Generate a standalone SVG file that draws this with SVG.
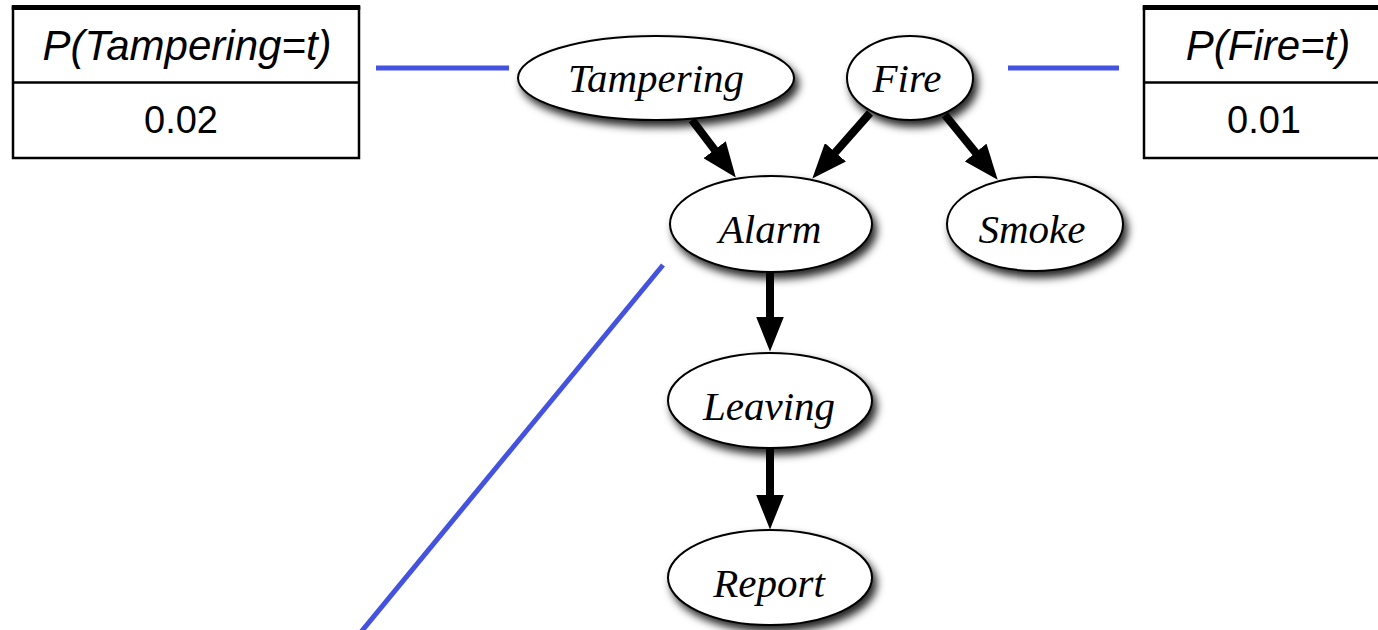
<svg xmlns="http://www.w3.org/2000/svg" width="1378" height="630" viewBox="0 0 1378 630">
<style>
.tbl{fill:#fff;stroke:#000;stroke-width:2.5}
.top{stroke:#000;stroke-width:5}
.div{stroke:#000;stroke-width:2.5}
.th{font-family:"Liberation Sans",Arial,sans-serif;font-style:italic;font-size:42px;fill:#000;text-anchor:middle}
.tv{font-family:"Liberation Sans",Arial,sans-serif;font-size:38px;fill:#000;text-anchor:middle}
.node ellipse{fill:#fff;stroke:#000;stroke-width:2;filter:url(#sh)}
.node text{font-family:"Liberation Serif","Times New Roman",serif;font-style:italic;font-size:41px;fill:#000;text-anchor:middle}
.edge{stroke:#000;stroke-width:8;fill:none;marker-end:url(#ah)}
.blue{stroke:#4452E0;stroke-width:5;fill:none}
</style>
<defs>
<filter id="sh" x="-20%" y="-20%" width="150%" height="160%">
<feDropShadow dx="4" dy="6" stdDeviation="4" flood-color="#000" flood-opacity="0.85"/>
</filter>
<marker id="ah" markerUnits="userSpaceOnUse" viewBox="0 0 35 28" markerWidth="35" markerHeight="28" refX="0.5" refY="14" orient="auto">
<path d="M0,0 L35,14 L0,28 Z" fill="#000"/>
</marker>
</defs>
<rect width="1378" height="630" fill="#fff"/>
<g id="cpt-tampering">
<rect class="tbl" x="13" y="7.5" width="346" height="150.5"/>
<line class="top" x1="11.75" y1="7.5" x2="360.25" y2="7.5"/>
<line class="div" x1="13" y1="82.5" x2="359" y2="82.5"/>
<text class="th" x="187" y="60">P(Tampering=t)</text>
<text class="tv" x="181" y="133">0.02</text>
</g>
<g id="cpt-fire">
<rect class="tbl" x="1144" y="7.5" width="260" height="150.5"/>
<line class="top" x1="1142.75" y1="7.5" x2="1400" y2="7.5"/>
<line class="div" x1="1144" y1="82.5" x2="1400" y2="82.5"/>
<text class="th" x="1268" y="60">P(Fire=t)</text>
<text class="tv" x="1264" y="133">0.01</text>
</g>
<g id="connectors">
<line class="blue" x1="376" y1="68" x2="509" y2="68"/>
<line class="blue" x1="1008" y1="68" x2="1119" y2="68"/>
<line class="blue" x1="663" y1="265" x2="361" y2="632"/>
<line class="edge" x1="692" y1="120" x2="714.9" y2="150.1"/>
<line class="edge" x1="870" y1="113" x2="835.1" y2="152.7"/>
<line class="edge" x1="945" y1="115" x2="975.9" y2="152.9"/>
<line class="edge" x1="770" y1="272" x2="770" y2="317"/>
<line class="edge" x1="770" y1="448" x2="770" y2="495"/>
</g>
<g id="tampering" class="node">
<ellipse cx="656" cy="78" rx="138" ry="42"/>
<text x="656" y="92">Tampering</text>
</g>
<g id="fire" class="node">
<ellipse cx="910" cy="78" rx="63" ry="42"/>
<text x="907" y="92">Fire</text>
</g>
<g id="alarm" class="node">
<ellipse cx="771" cy="224" rx="101" ry="48"/>
<text x="770" y="243">Alarm</text>
</g>
<g id="smoke" class="node">
<ellipse cx="1035" cy="224" rx="88" ry="47"/>
<text x="1032" y="243">Smoke</text>
</g>
<g id="leaving" class="node">
<ellipse cx="770" cy="400.5" rx="102" ry="47.5"/>
<text x="769" y="420">Leaving</text>
</g>
<g id="report" class="node">
<ellipse cx="770" cy="577.5" rx="102" ry="47.5"/>
<text x="769" y="597">Report</text>
</g>
</svg>
